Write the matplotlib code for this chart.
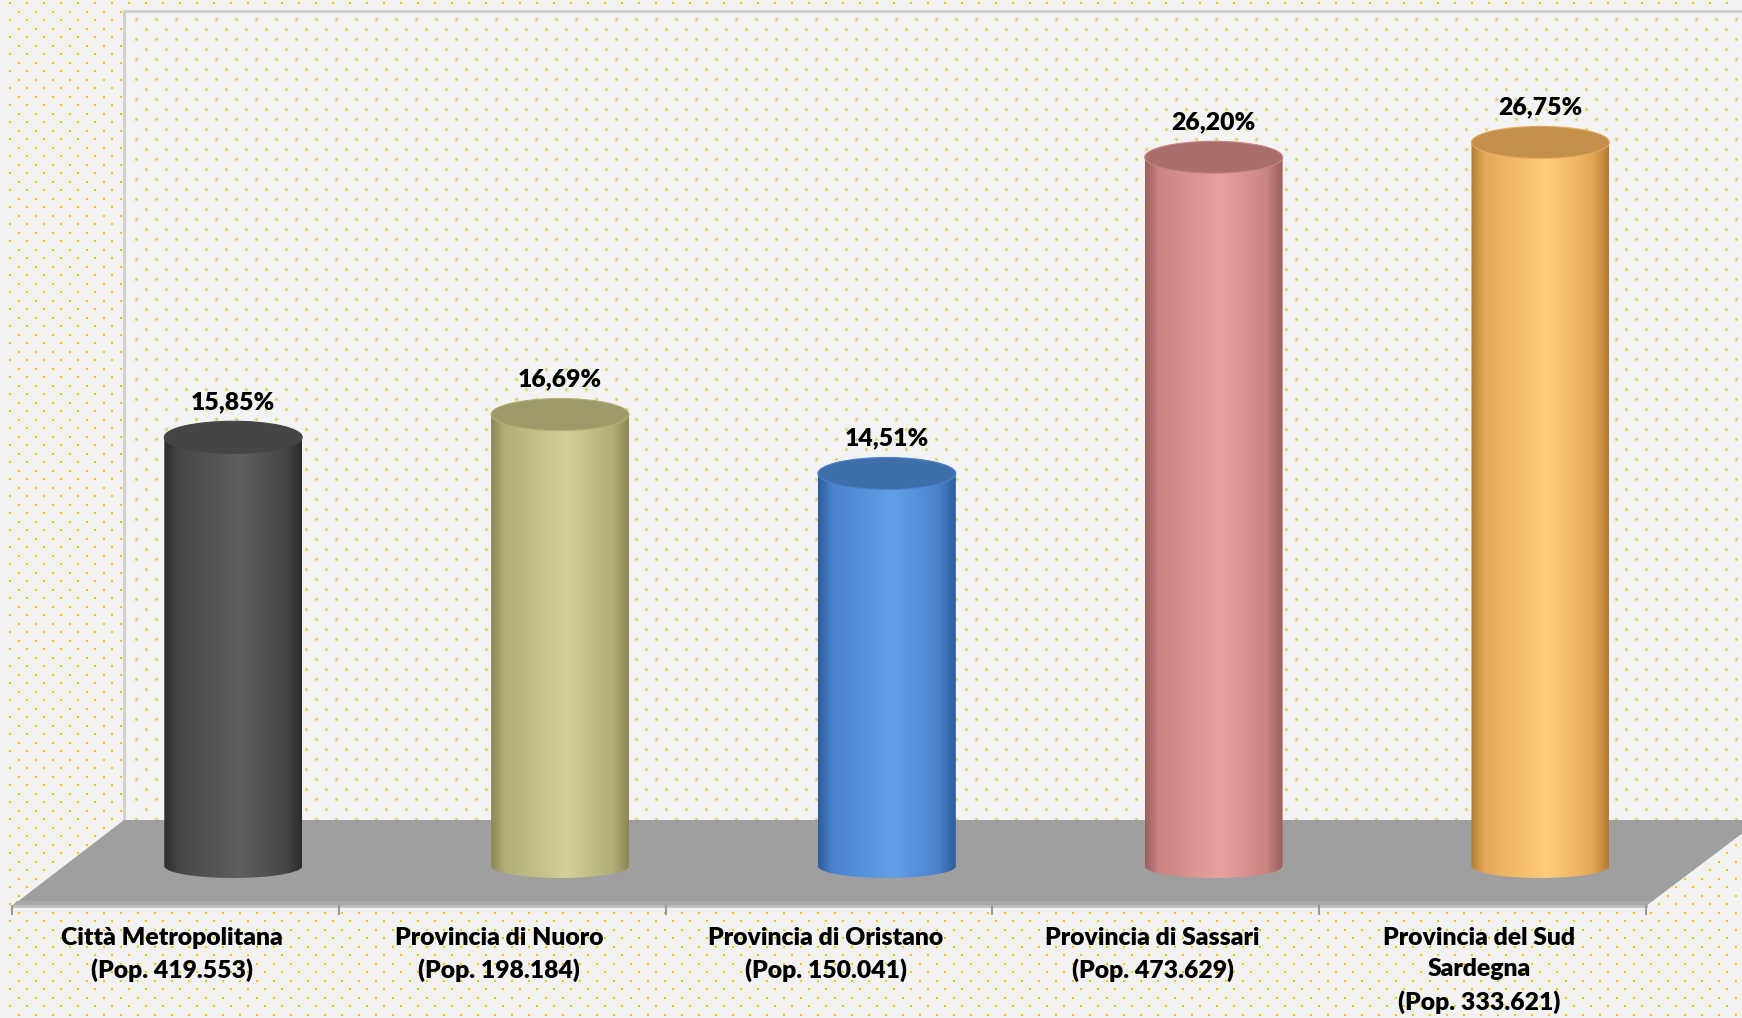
import numpy as np
import matplotlib.pyplot as plt
from matplotlib.colors import LinearSegmentedColormap
from matplotlib.patches import Polygon, Ellipse, PathPatch
from matplotlib.path import Path

# dati
categorie = ['Città Metropolitana\n(Pop. 419.553)',
             'Provincia di Nuoro\n(Pop. 198.184)',
             'Provincia di Oristano\n(Pop. 150.041)',
             'Provincia di Sassari\n(Pop. 473.629)',
             'Provincia del Sud\nSardegna\n(Pop. 333.621)']
valori = [15.85, 16.69, 14.51, 26.20, 26.75]
etichette = ['15,85%', '16,69%', '14,51%', '26,20%', '26,75%']

# colori cilindri: bordo scuro, medio, chiaro, tappo
colori = [('#2c2c2c', '#464646', '#5f5f5f', '#454545'),
          ('#8c8856', '#b2ae78', '#d3cf98', '#9d9968'),
          ('#2d5c9a', '#4983cb', '#62a0e8', '#3e6fab'),
          ('#9c5e5e', '#cb8484', '#e9a2a0', '#a76e6c'),
          ('#b27c36', '#e6a858', '#ffcc7e', '#c3904c')]

W, H = 1742, 1018
fig = plt.figure(figsize=(W / 100, H / 100), dpi=100)
fig.patch.set_facecolor('#f2f2f2')

# --- sfondo decorativo in pixel ---
bg = fig.add_axes([0, 0, 1, 1])
bg.set_xlim(0, W)
bg.set_ylim(H, 0)
bg.axis('off')

rows = np.arange(3, H, 8.5)
px, py = [], []
for k, yy in enumerate(rows):
    xs = np.arange(10 + (8.5 if k % 2 else 0), W, 17)
    px.extend(xs)
    py.extend([yy] * len(xs))
bg.scatter(px, py, s=2.6, marker='s', color='#ffc000', linewidths=0, zorder=1)

# parete di fondo
wx0, wy0, wy1 = 124, 11, 822
bg.add_patch(Polygon([[wx0, wy0], [W + 5, wy0], [W + 5, wy1], [wx0, wy1]],
                     closed=True, facecolor='#f3f2f5', edgecolor='none', zorder=2))
rows = np.arange(wy0 + 8, wy1, 10)
qx, qy = [], []
for k, yy in enumerate(rows):
    xs = np.arange(wx0 + 12 + (10 if k % 2 else 0), W, 20)
    qx.extend(xs)
    qy.extend([yy] * len(xs))
bg.scatter(qx, qy, s=18, marker='o', color='#f7f1c4', linewidths=0, zorder=3)
bg.scatter(qx, qy, s=3.5, marker='o', color='#c9c8a6', linewidths=0, zorder=4)
bg.plot([wx0, wx0, W + 5], [wy1, wy0, wy0], color='#cfcfcf', lw=2, zorder=5)

# pavimento
floor = [[124, 820], [1760, 820], [1646, 906], [12, 906]]
bg.add_patch(Polygon(floor, closed=True, facecolor='#9f9f9f', edgecolor='none', zorder=6))
bg.add_patch(Polygon([[17, 901], [1651, 901], [1646, 906], [12, 906]], closed=True,
                     facecolor='#a8a8a8', edgecolor='none', zorder=7))
bg.plot([12, 1646], [906, 906], color='#bebebe', lw=2, zorder=8)
for i in range(len(categorie) + 1):
    tx = 12 + i * 326.8
    bg.plot([tx, tx], [906, 914], color='#9a9a9a', lw=1.5, zorder=8)

# --- assi dati ---
ax = fig.add_axes([0, 0, 1, 1])
ax.patch.set_alpha(0)
ax.axis('off')

pxu = 326.8          # pixel per categoria
pyu = 27.05          # pixel per punto percentuale
x_min = -0.5 - 12 / pxu
x_max = x_min + W / pxu
y_max = 866 / pyu
y_min = y_max - H / pyu

offset = 0.177
hw = 0.211
top_h = 16 / pyu
bot_h = 12 / pyu

t = np.linspace(np.pi, 2 * np.pi, 60)
for i, v in enumerate(valori):
    cx = i + offset
    dark, mid, light, cap = colori[i]
    cmap = LinearSegmentedColormap.from_list(
        'c%d' % i, [(0, dark), (0.1, mid), (0.55, light), (0.88, mid), (1, dark)])
    grad = np.linspace(0, 1, 256).reshape(1, -1)
    im = ax.imshow(grad, extent=[cx - hw, cx + hw, -bot_h, v], aspect='auto',
                   cmap=cmap, zorder=3, interpolation='bilinear')
    bx = cx + hw * np.cos(t)
    by = bot_h * np.sin(t)
    verts = [(cx - hw, v)] + list(zip(bx, by)) + [(cx + hw, v), (cx - hw, v)]
    body = PathPatch(Path(verts, closed=True), facecolor='none', edgecolor='none',
                     transform=ax.transData)
    ax.add_patch(body)
    im.set_clip_path(body)
    ax.add_patch(Ellipse((cx, v), 2 * hw, 2 * top_h, facecolor=cap,
                         edgecolor=mid, lw=0.8, zorder=4))
    ax.text(cx, v + top_h + 0.45, etichette[i], ha='center', va='baseline',
            fontsize=17.8, fontweight='heavy', family='Lato', color='black', zorder=5)

for i, lab in enumerate(categorie):
    ax.text(i - 0.01, (866 - 927) / pyu, lab, ha='center', va='top',
            fontsize=17.8, fontweight='heavy', family='Lato', color='black',
            linespacing=1.5, zorder=5)

ax.set_xlim(x_min, x_max)
ax.set_ylim(y_min, y_max)

plt.savefig('out.png', dpi=100)
